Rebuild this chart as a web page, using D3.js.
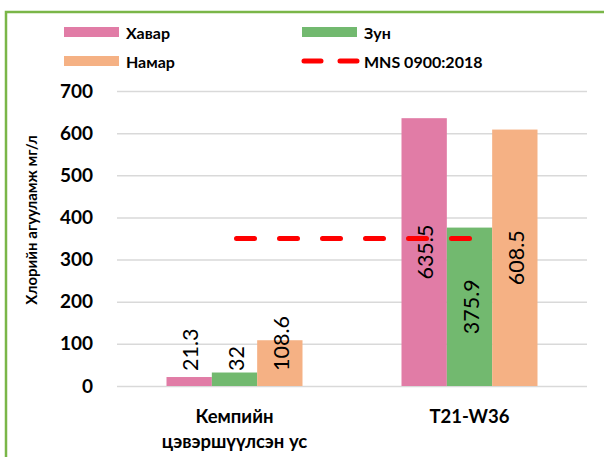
<!DOCTYPE html>
<html>
<head>
<meta charset="utf-8">
<script src="https://cdn.jsdelivr.net/npm/d3@7"></script>
<style>
  html, body { margin: 0; padding: 0; background: #fff; }
  svg { display: block; font-family: Lato, "Open Sans", sans-serif; }
</style>
</head>
<body>
<svg id="chart" width="604" height="457"></svg>
<script>
// Chloride concentration by site and season
const categories = [["Кемпийн", "цэвэршүүлсэн ус"], ["T21-W36"]];
const categoryKeys = ["camp", "t21"];
const seasons = ["Хавар", "Зун", "Намар"];
const seasonColors = ["#e17ca6", "#72b96f", "#f5b184"];
const springValues = [21.3, 635.5];
const summerValues = [32, 375.9];
const autumnValues = [108.6, 608.5];
const seriesValues = [springValues, summerValues, autumnValues];
const valueLabels = [["21.3", "635.5"], ["32", "375.9"], ["108.6", "608.5"]];
const standardName = "MNS 0900:2018";
const standardValue = 350;
const yTicks = [0, 100, 200, 300, 400, 500, 600, 700];
const yTitle = "Хлорийн агууламж мг/л";

const svg = d3.select("#chart");

// outer frame
svg.append("rect")
  .attr("x", 6).attr("y", 12).attr("width", 610).attr("height", 460)
  .attr("fill", "none").attr("stroke", "#7ab648").attr("stroke-width", 2.5);

const plot = { left: 117, right: 587, top: 91, bottom: 386 };

const y = d3.scaleLinear().domain([0, 700]).range([plot.bottom, plot.top]);
const x0 = d3.scaleBand().domain(categoryKeys).range([plot.left, plot.right]).paddingInner(0).paddingOuter(0);
const groupWidth = 136;
const x1 = d3.scaleBand().domain(seasons).range([0, groupWidth]).padding(0);

// gridlines
const yAxis = d3.axisLeft(y).tickValues(yTicks).tickSize(-(plot.right - plot.left)).tickPadding(24);
const gy = svg.append("g").attr("transform", `translate(${plot.left},0)`).call(yAxis);
gy.select(".domain").remove();
gy.selectAll(".tick line").attr("stroke", "#d9d9d9").attr("stroke-width", 1.5);
gy.selectAll(".tick text")
  .attr("font-size", 19).attr("font-weight", "bold").attr("fill", "#000")
  .attr("font-family", "Lato, sans-serif");

// y title
svg.append("text")
  .attr("transform", `translate(37,220) rotate(-90)`)
  .attr("text-anchor", "middle")
  .attr("font-size", 15).attr("font-weight", "bold").attr("fill", "#000")
  .text(yTitle);

// bars
const groupOffset = (x0.bandwidth() - groupWidth) / 2;
seasons.forEach((s, si) => {
  const g = svg.append("g");
  g.selectAll("rect")
    .data(categoryKeys.map((k, ci) => ({ k, v: seriesValues[si][ci] })))
    .join("rect")
    .attr("x", d => x0(d.k) + groupOffset + x1(s))
    .attr("y", d => y(d.v))
    .attr("width", x1.bandwidth())
    .attr("height", d => y(0) - y(d.v))
    .attr("fill", seasonColors[si]);
});

// standard limit line, from center of first group to center of second
const lineX1 = x0(categoryKeys[0]) + x0.bandwidth() / 2;
const lineX2 = x0(categoryKeys[1]) + x0.bandwidth() / 2;
svg.append("line")
  .attr("x1", lineX1 + 2).attr("x2", lineX2)
  .attr("y1", y(standardValue)).attr("y2", y(standardValue))
  .attr("stroke", "#ff0000").attr("stroke-width", 5)
  .attr("stroke-linecap", "round")
  .attr("stroke-dasharray", "18,25");

// value labels (rotated)
seasons.forEach((s, si) => {
  categoryKeys.forEach((k, ci) => {
    const v = seriesValues[si][ci];
    const cx = x0(k) + groupOffset + x1(s) + x1.bandwidth() / 2;
    const t = svg.append("text")
      .attr("font-size", 21.5).attr("fill", "#000")
      .text(valueLabels[si][ci]);
    const len = t.node().getComputedTextLength();
    let cy = (y(0) + y(v)) / 2;
    const maxCy = y(0) - 15 - len / 2;
    if (cy > maxCy) cy = maxCy;
    t.attr("text-anchor", "middle")
      .attr("dominant-baseline", "central")
      .attr("transform", `translate(${cx + 1},${cy}) rotate(-90)`);
  });
});

// category labels
categoryKeys.forEach((k, ci) => {
  const cx = x0(k) + x0.bandwidth() / 2;
  const t = svg.append("text")
    .attr("text-anchor", "middle")
    .attr("font-size", 18.5).attr("font-weight", "bold").attr("fill", "#000");
  categories[ci].forEach((line, li) => {
    t.append("tspan").attr("x", cx).attr("y", 423 + li * 25).text(line);
  });
});

// legend
const legendItems = [
  { label: seasons[0], color: seasonColors[0], x: 64, y: 32, type: "rect" },
  { label: seasons[1], color: seasonColors[1], x: 302, y: 32, type: "rect" },
  { label: seasons[2], color: seasonColors[2], x: 64, y: 61, type: "rect" },
  { label: standardName, color: "#ff0000", x: 302, y: 61, type: "dash" }
];
legendItems.forEach(d => {
  if (d.type === "rect") {
    svg.append("rect").attr("x", d.x).attr("y", d.y - 5).attr("width", 55).attr("height", 10).attr("fill", d.color);
  } else {
    svg.append("line")
      .attr("x1", d.x + 2).attr("x2", d.x + 55)
      .attr("y1", d.y).attr("y2", d.y)
      .attr("stroke", d.color).attr("stroke-width", 5)
      .attr("stroke-linecap", "round")
      .attr("stroke-dasharray", "17,19");
  }
  svg.append("text")
    .attr("x", d.x + 62).attr("y", d.y)
    .attr("dominant-baseline", "central")
    .attr("font-size", 16).attr("font-weight", "bold").attr("fill", "#000")
    .text(d.label);
});
</script>
</body>
</html>
